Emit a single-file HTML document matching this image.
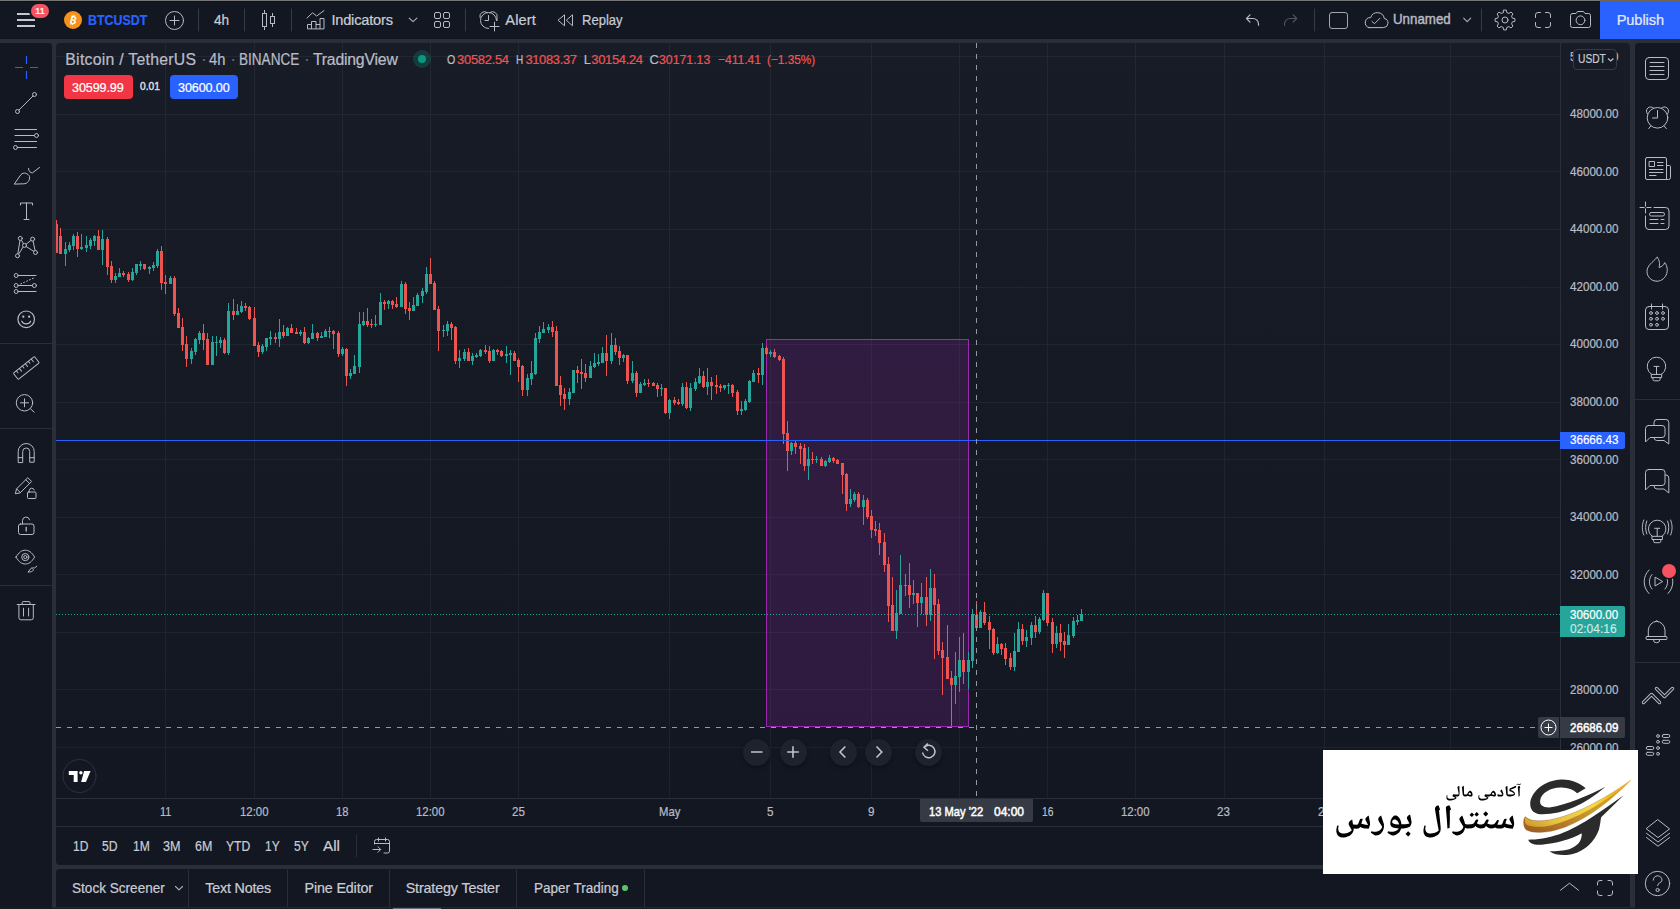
<!DOCTYPE html>
<html lang="en"><head><meta charset="utf-8"><title>BTCUSDT 30600.00 - TradingView</title>
<style>
*{box-sizing:border-box;margin:0;padding:0}
html,body{width:1680px;height:909px;overflow:hidden;background:#2a2e39}
body{position:relative;font-family:"Liberation Sans",sans-serif;color:#d1d4dc;-webkit-font-smoothing:antialiased}
.p{position:absolute;background:#131722}
.t{position:absolute;white-space:pre;line-height:1;display:block;-webkit-text-stroke:.22px}
svg{position:absolute;left:0;top:0;overflow:visible}
.btn{position:absolute;border-radius:4px}
.lbl{position:absolute}
.sep{position:absolute;width:1px;background:#2a2e39}
.hsep{position:absolute;height:1px;background:#2a2e39}
.nav{position:absolute;width:27px;height:27px;border-radius:50%;background:#1e222d;box-shadow:0 2px 4px rgba(0,0,0,.35)}
</style></head><body>

<div id="topline" style="position:absolute;left:0;top:0;width:1680px;height:1px;background:#757575"></div>
<div id="topline2" style="position:absolute;left:0;top:1px;width:1680px;height:1px;background:#0e111a"></div>
<header class="p" id="toolbar" style="left:0;top:2px;width:1680px;height:37px"></header>
<nav class="p" id="lefttools" style="left:0;top:43px;width:52px;height:866px;border-top-right-radius:4px"></nav>
<main class="p" id="chartpanel" style="left:56px;top:43px;width:1574px;height:822px;border-radius:4px;background:linear-gradient(#181c27 0px,#131722 755px,#131722 822px)"></main>
<footer class="p" id="bottomtabs" style="left:56px;top:869px;width:1574px;height:38px;border-radius:4px 4px 0 0"></footer>
<aside class="p" id="righttools" style="left:1635px;top:43px;width:45px;height:866px;border-top-left-radius:4px"></aside>
<div id="publish" style="position:absolute;left:1600px;top:1px;width:80px;height:38px;background:#2962ff"></div><div style="position:absolute;left:1600px;top:0;width:80px;height:1px;background:#6e6651"></div>
<svg id="chart" width="1680" height="909" viewBox="0 0 1680 909" shape-rendering="crispEdges">
<defs><clipPath id="pane"><rect x="56" y="43" width="1504" height="755"/></clipPath></defs>
<g clip-path="url(#pane)">
<path d="M165.5,43V798M254.5,43V798M342.5,43V798M430.5,43V798M518.5,43V798M669.5,43V798M770.5,43V798M871.5,43V798M959.5,43V798M1047.5,43V798M1135.5,43V798M1224.5,43V798M1324.5,43V798M1450.5,43V798M56,56.5H1560M56,114.5H1560M56,171.5H1560M56,229.5H1560M56,287.5H1560M56,344.5H1560M56,402.5H1560M56,459.5H1560M56,517.5H1560M56,574.5H1560M56,632.5H1560M56,689.5H1560M56,747.5H1560" stroke="rgba(240,243,250,0.055)" stroke-width="1" fill="none"/>
<rect x="766.5" y="339.5" width="202" height="387" fill="rgba(156,39,176,0.2)" stroke="#9c27b0" stroke-width="1"/>
<path d="M65,242h1v24h-1zM69,242h1v10h-1zM73,234h1v16h-1zM81,234h1v16h-1zM86,236h1v16h-1zM90,238h1v11h-1zM94,235h1v11h-1zM102,230h1v35h-1zM115,273h1v10h-1zM119,268h1v9h-1zM132,268h1v13h-1zM136,264h1v11h-1zM140,261h1v9h-1zM149,266h1v8h-1zM153,262h1v9h-1zM157,249h1v19h-1zM170,276h1v8h-1zM191,348h1v16h-1zM195,338h1v17h-1zM199,331h1v13h-1zM212,336h1v29h-1zM216,336h1v20h-1zM220,337h1v11h-1zM228,303h1v52h-1zM237,304h1v11h-1zM241,301h1v12h-1zM262,344h1v10h-1zM266,338h1v13h-1zM270,331h1v14h-1zM279,319h1v28h-1zM287,327h1v9h-1zM300,330h1v6h-1zM308,337h1v7h-1zM312,324h1v15h-1zM321,332h1v6h-1zM325,329h1v8h-1zM342,347h1v9h-1zM350,369h1v10h-1zM354,355h1v19h-1zM359,312h1v61h-1zM363,312h1v14h-1zM375,315h1v12h-1zM380,293h1v32h-1zM388,300h1v9h-1zM401,281h1v26h-1zM413,297h1v14h-1zM417,293h1v13h-1zM422,288h1v15h-1zM426,267h1v27h-1zM443,325h1v12h-1zM447,321h1v15h-1zM459,350h1v18h-1zM464,349h1v12h-1zM472,353h1v12h-1zM476,353h1v5h-1zM480,349h1v8h-1zM493,349h1v12h-1zM506,346h1v17h-1zM510,350h1v25h-1zM527,374h1v22h-1zM531,361h1v24h-1zM535,333h1v42h-1zM539,326h1v17h-1zM543,322h1v11h-1zM548,324h1v9h-1zM569,388h1v17h-1zM573,370h1v23h-1zM590,361h1v17h-1zM594,353h1v15h-1zM598,354h1v12h-1zM602,347h1v16h-1zM611,333h1v31h-1zM623,354h1v8h-1zM632,361h1v22h-1zM640,382h1v11h-1zM644,379h1v7h-1zM661,384h1v12h-1zM669,399h1v20h-1zM682,383h1v23h-1zM690,383h1v28h-1zM695,378h1v13h-1zM699,368h1v16h-1zM707,368h1v27h-1zM724,385h1v5h-1zM728,383h1v11h-1zM741,401h1v14h-1zM745,399h1v12h-1zM749,380h1v23h-1zM753,370h1v12h-1zM762,343h1v42h-1zM770,350h1v7h-1zM791,442h1v13h-1zM808,447h1v33h-1zM816,456h1v7h-1zM825,460h1v7h-1zM829,455h1v8h-1zM850,489h1v18h-1zM854,492h1v10h-1zM863,495h1v30h-1zM896,590h1v49h-1zM900,555h1v59h-1zM905,574h1v22h-1zM913,580h1v24h-1zM921,583h1v31h-1zM930,569h1v52h-1zM955,652h1v52h-1zM959,637h1v55h-1zM968,652h1v37h-1zM972,609h1v59h-1zM980,610h1v18h-1zM997,637h1v17h-1zM1014,633h1v38h-1zM1018,622h1v30h-1zM1026,630h1v17h-1zM1031,622h1v23h-1zM1039,617h1v17h-1zM1043,590h1v31h-1zM1056,626h1v22h-1zM1068,624h1v21h-1zM1073,617h1v21h-1zM1077,615h1v10h-1zM1081,609h1v12h-1zM64,249h3v5h-3zM68,245h3v5h-3zM72,236h3v10h-3zM80,247h3v2h-3zM85,245h3v3h-3zM89,240h3v6h-3zM93,236h3v5h-3zM101,239h3v11h-3zM114,276h3v4h-3zM118,273h3v4h-3zM131,272h3v8h-3zM135,264h3v9h-3zM139,264h3v2h-3zM148,267h3v2h-3zM152,265h3v3h-3zM156,251h3v15h-3zM169,278h3v6h-3zM190,351h3v8h-3zM194,339h3v13h-3zM198,333h3v7h-3zM211,342h3v23h-3zM215,342h3v1h-3zM219,340h3v3h-3zM227,311h3v42h-3zM236,311h3v4h-3zM240,306h3v6h-3zM261,346h3v6h-3zM265,338h3v9h-3zM269,337h3v2h-3zM278,332h3v7h-3zM286,328h3v8h-3zM299,332h3v2h-3zM307,338h3v5h-3zM311,333h3v6h-3zM320,336h3v2h-3zM324,331h3v6h-3zM341,349h3v5h-3zM349,373h3v3h-3zM353,366h3v8h-3zM358,324h3v43h-3zM362,321h3v4h-3zM374,324h3v1h-3zM379,302h3v23h-3zM387,301h3v3h-3zM400,284h3v23h-3zM412,305h3v6h-3zM416,295h3v11h-3zM421,291h3v5h-3zM425,274h3v18h-3zM442,330h3v1h-3zM446,324h3v7h-3zM458,358h3v3h-3zM463,352h3v7h-3zM471,356h3v5h-3zM475,355h3v2h-3zM479,350h3v6h-3zM492,350h3v11h-3zM505,354h3v2h-3zM509,353h3v2h-3zM526,378h3v12h-3zM530,373h3v6h-3zM534,338h3v36h-3zM538,332h3v7h-3zM542,329h3v4h-3zM547,327h3v3h-3zM568,392h3v7h-3zM572,370h3v23h-3zM589,366h3v12h-3zM593,363h3v4h-3zM597,362h3v2h-3zM601,353h3v10h-3zM610,345h3v16h-3zM622,355h3v3h-3zM631,373h3v8h-3zM639,384h3v9h-3zM643,383h3v2h-3zM660,388h3v1h-3zM668,400h3v13h-3zM681,387h3v17h-3zM689,388h3v20h-3zM694,382h3v7h-3zM698,376h3v7h-3zM706,382h3v5h-3zM723,385h3v3h-3zM727,385h3v1h-3zM740,409h3v2h-3zM744,401h3v9h-3zM748,381h3v21h-3zM752,373h3v9h-3zM761,348h3v27h-3zM769,352h3v2h-3zM790,443h3v8h-3zM807,459h3v7h-3zM815,459h3v1h-3zM824,461h3v5h-3zM828,458h3v4h-3zM849,499h3v5h-3zM853,494h3v6h-3zM862,500h3v7h-3zM895,613h3v18h-3zM899,585h3v29h-3zM904,585h3v1h-3zM912,593h3v2h-3zM920,597h3v6h-3zM929,588h3v27h-3zM954,676h3v9h-3zM958,660h3v17h-3zM967,660h3v12h-3zM971,614h3v47h-3zM979,612h3v16h-3zM996,644h3v9h-3zM1013,651h3v16h-3zM1017,629h3v23h-3zM1025,637h3v4h-3zM1030,625h3v13h-3zM1038,619h3v13h-3zM1042,593h3v27h-3zM1055,633h3v11h-3zM1067,635h3v10h-3zM1072,621h3v15h-3zM1076,620h3v2h-3zM1080,614h3v7h-3z" fill="#26a69a"/>
<path d="M56,220h1v33h-1zM60,228h1v26h-1zM77,232h1v25h-1zM98,230h1v20h-1zM107,237h1v38h-1zM111,261h1v22h-1zM123,271h1v6h-1zM128,272h1v10h-1zM144,264h1v6h-1zM161,246h1v44h-1zM165,275h1v19h-1zM174,276h1v40h-1zM178,308h1v20h-1zM182,318h1v33h-1zM186,336h1v31h-1zM203,324h1v26h-1zM207,333h1v32h-1zM224,338h1v16h-1zM233,299h1v21h-1zM245,303h1v8h-1zM249,306h1v14h-1zM254,307h1v39h-1zM258,342h1v15h-1zM275,333h1v10h-1zM283,325h1v13h-1zM291,324h1v9h-1zM296,328h1v6h-1zM304,327h1v17h-1zM317,332h1v9h-1zM329,327h1v11h-1zM333,330h1v19h-1zM338,331h1v26h-1zM346,348h1v38h-1zM367,308h1v19h-1zM371,319h1v9h-1zM384,300h1v10h-1zM392,300h1v9h-1zM396,297h1v11h-1zM405,282h1v32h-1zM409,302h1v18h-1zM430,258h1v26h-1zM434,281h1v29h-1zM438,306h1v45h-1zM451,322h1v18h-1zM455,326h1v38h-1zM468,348h1v13h-1zM485,345h1v9h-1zM489,346h1v17h-1zM497,349h1v6h-1zM501,350h1v7h-1zM514,351h1v10h-1zM518,358h1v24h-1zM522,365h1v31h-1zM552,321h1v16h-1zM556,326h1v60h-1zM560,376h1v30h-1zM564,388h1v22h-1zM577,366h1v17h-1zM581,359h1v30h-1zM585,364h1v18h-1zM606,335h1v41h-1zM615,338h1v17h-1zM619,346h1v19h-1zM627,355h1v29h-1zM636,371h1v26h-1zM648,379h1v8h-1zM653,382h1v4h-1zM657,383h1v14h-1zM665,388h1v26h-1zM674,397h1v8h-1zM678,399h1v6h-1zM686,382h1v27h-1zM703,371h1v17h-1zM711,377h1v23h-1zM716,375h1v19h-1zM720,384h1v8h-1zM732,384h1v13h-1zM737,390h1v25h-1zM758,368h1v15h-1zM766,346h1v9h-1zM774,349h1v9h-1zM779,355h1v6h-1zM783,357h1v87h-1zM787,421h1v50h-1zM795,440h1v14h-1zM800,443h1v21h-1zM804,444h1v27h-1zM812,452h1v12h-1zM821,457h1v9h-1zM833,457h1v6h-1zM837,459h1v5h-1zM842,463h1v31h-1zM846,473h1v38h-1zM858,492h1v16h-1zM867,498h1v21h-1zM871,510h1v28h-1zM875,521h1v15h-1zM879,523h1v32h-1zM884,533h1v39h-1zM888,557h1v65h-1zM892,577h1v54h-1zM909,563h1v45h-1zM917,593h1v34h-1zM926,577h1v49h-1zM934,574h1v85h-1zM938,599h1v56h-1zM942,642h1v53h-1zM947,625h1v54h-1zM951,671h1v55h-1zM963,633h1v51h-1zM976,601h1v27h-1zM984,602h1v23h-1zM989,616h1v33h-1zM993,628h1v27h-1zM1001,643h1v12h-1zM1005,643h1v22h-1zM1010,653h1v17h-1zM1022,624h1v21h-1zM1035,616h1v22h-1zM1047,593h1v33h-1zM1052,618h1v35h-1zM1060,624h1v27h-1zM1064,632h1v26h-1zM55,224h3v29h-3zM59,236h3v18h-3zM76,236h3v13h-3zM97,236h3v14h-3zM106,239h3v28h-3zM110,266h3v14h-3zM122,273h3v2h-3zM127,274h3v6h-3zM143,264h3v5h-3zM160,251h3v32h-3zM164,282h3v2h-3zM173,278h3v36h-3zM177,313h3v15h-3zM181,327h3v18h-3zM185,344h3v15h-3zM202,333h3v7h-3zM206,339h3v26h-3zM223,340h3v13h-3zM232,311h3v4h-3zM244,306h3v2h-3zM248,307h3v12h-3zM253,318h3v28h-3zM257,345h3v7h-3zM274,337h3v2h-3zM282,332h3v4h-3zM290,328h3v5h-3zM295,332h3v2h-3zM303,332h3v11h-3zM316,333h3v5h-3zM328,331h3v1h-3zM332,331h3v3h-3zM337,333h3v21h-3zM345,349h3v27h-3zM366,321h3v4h-3zM370,324h3v1h-3zM383,302h3v2h-3zM391,301h3v4h-3zM395,304h3v3h-3zM404,284h3v25h-3zM408,308h3v3h-3zM429,274h3v10h-3zM433,283h3v27h-3zM437,309h3v22h-3zM450,324h3v4h-3zM454,327h3v34h-3zM467,352h3v9h-3zM484,350h3v2h-3zM488,351h3v10h-3zM496,350h3v2h-3zM500,351h3v5h-3zM513,353h3v8h-3zM517,360h3v7h-3zM521,366h3v24h-3zM551,327h3v5h-3zM555,331h3v55h-3zM559,385h3v10h-3zM563,394h3v5h-3zM576,370h3v3h-3zM580,372h3v2h-3zM584,373h3v5h-3zM605,353h3v8h-3zM614,345h3v7h-3zM618,351h3v7h-3zM626,355h3v26h-3zM635,373h3v20h-3zM647,383h3v1h-3zM652,383h3v3h-3zM656,385h3v4h-3zM664,388h3v25h-3zM673,400h3v3h-3zM677,402h3v2h-3zM685,387h3v21h-3zM702,376h3v11h-3zM710,382h3v4h-3zM715,385h3v2h-3zM719,386h3v2h-3zM731,385h3v8h-3zM736,392h3v19h-3zM757,373h3v2h-3zM765,348h3v6h-3zM773,352h3v5h-3zM778,356h3v4h-3zM782,359h3v75h-3zM786,433h3v18h-3zM794,443h3v4h-3zM799,446h3v3h-3zM803,448h3v18h-3zM811,459h3v1h-3zM820,459h3v7h-3zM832,458h3v3h-3zM836,460h3v4h-3zM841,463h3v12h-3zM845,474h3v30h-3zM857,494h3v13h-3zM866,500h3v17h-3zM870,516h3v14h-3zM874,529h3v2h-3zM878,530h3v13h-3zM883,542h3v23h-3zM887,564h3v42h-3zM891,605h3v26h-3zM908,585h3v10h-3zM916,593h3v10h-3zM925,597h3v18h-3zM933,588h3v17h-3zM937,604h3v47h-3zM941,650h3v8h-3zM946,657h3v22h-3zM950,678h3v7h-3zM962,660h3v12h-3zM975,615h3v13h-3zM983,612h3v11h-3zM988,622h3v8h-3zM992,629h3v24h-3zM1000,644h3v5h-3zM1004,648h3v11h-3zM1009,658h3v9h-3zM1021,629h3v12h-3zM1034,625h3v7h-3zM1046,593h3v30h-3zM1051,622h3v22h-3zM1059,633h3v9h-3zM1063,641h3v4h-3z" fill="#ef5350"/>
<rect x="56" y="440" width="1504" height="1" fill="#2962ff"/>
<path d="M56,614.5H1560" stroke="#26a69a" stroke-width="1" stroke-dasharray="1 2" fill="none"/>
<path d="M976.5,43V798" stroke="#9598a1" stroke-width="1" stroke-dasharray="5 6" fill="none"/>
<path d="M56,727.5H1560" stroke="#9598a1" stroke-width="1" stroke-dasharray="5 6" fill="none"/>
</g>
<path d="M1560.5,43V798M56,798.5H1630M56,826.5H1630" stroke="#2a2e39" stroke-width="1" fill="none"/>
</svg>
<div class="btn" id="sell" style="left:64px;top:75px;width:69px;height:24px;background:#f23645"></div>
<div class="btn" id="buy" style="left:170px;top:75px;width:68px;height:24px;background:#2962ff"></div>
<div id="status" style="position:absolute;left:413px;top:50px;width:18px;height:18px;border-radius:50%;background:rgba(8,153,129,.25)"></div><div style="position:absolute;left:418px;top:55px;width:8px;height:8px;border-radius:50%;background:#089981"></div>
<div id="cur" style="position:absolute;left:1573px;top:49px;width:44px;height:21px;border:1px solid #363a45;border-radius:4px;background:#171b26;z-index:2"></div>
<div class="lbl" id="lbl-line" style="left:1560px;top:432px;width:65px;height:17px;background:#2962ff;border-radius:0 2px 2px 0"></div>
<div class="lbl" id="lbl-last" style="left:1560px;top:606px;width:65px;height:31px;background:#26a69a;border-radius:0 2px 2px 0"></div>
<div class="lbl" id="lbl-cross" style="left:1560px;top:717px;width:65px;height:21px;background:#363a45;border-radius:0 2px 2px 0"></div>
<div class="lbl" id="lbl-plus" style="left:1538px;top:717px;width:21px;height:21px;background:#363a45;border-radius:2px 0 0 2px"></div>
<div class="lbl" id="lbl-time" style="left:920px;top:799px;width:113px;height:23px;background:#363a45;border-radius:0 0 2px 2px"></div>
<div class="nav" style="left:743.2px;top:738.5px"></div>
<div class="nav" style="left:779.5px;top:738.5px"></div>
<div class="nav" style="left:829.5px;top:738.5px"></div>
<div class="nav" style="left:865.3px;top:738.5px"></div>
<div class="nav" style="left:915.3px;top:738.5px"></div>
<div class="sep" style="left:188px;top:870px;height:37px"></div>
<div class="sep" style="left:287px;top:870px;height:37px"></div>
<div class="sep" style="left:389px;top:870px;height:37px"></div>
<div class="sep" style="left:516px;top:870px;height:37px"></div>
<div class="sep" style="left:644px;top:870px;height:37px"></div>
<div style="position:absolute;left:622px;top:885px;width:6px;height:6px;border-radius:50%;background:#5dc46a"></div>
<div style="position:absolute;left:0;top:907px;width:1680px;height:1px;background:#17191f"></div><div style="position:absolute;left:52px;top:907px;width:1583px;height:1px;background:#24272f"></div><div style="position:absolute;left:0;top:908px;width:1680px;height:1px;background:#1a1a1b"></div><div style="position:absolute;left:393px;top:908px;width:48px;height:1px;background:#686b76"></div>
<svg id="icons" width="1680" height="909" viewBox="0 0 1680 909" fill="none" stroke="#b8bbc4" stroke-width="1" stroke-linecap="round" stroke-linejoin="round">
<g id="ic-menu" stroke="none" fill="#c5c8d0"><rect x="17" y="13" width="18" height="2"/><rect x="17" y="19" width="18" height="2"/><rect x="17" y="25" width="18" height="2"/></g>
<rect x="29" y="2" width="22" height="18" rx="9" fill="#131722" stroke="none"/><rect x="31" y="4" width="18" height="14" rx="7" fill="#f7525f" stroke="none"/>
<circle cx="73" cy="20" r="9" fill="#f7931a" stroke="none"/>
<g id="ic-btc" transform="translate(73,20) rotate(14) scale(.8)" fill="#fff" stroke="none"><path d="M-3,-5h3.6c2,0 3,.9 3,2.4c0,1.1-.6,1.8-1.500,2.100c1.200,.3 2,1.100 2,2.500c0,1.900-1.300,3-3.500,3h-3.600zM-1,-3.400v2.700h1.300c.9,0 1.400-.5 1.400-1.400c0-.8-.5-1.300-1.400-1.300zM-1,.8v2.800h1.500c1,0 1.600-.5 1.600-1.400c0-.9-.6-1.400-1.600-1.400z" fill-rule="evenodd"/><rect x="-1.600" y="-6.500" width="1" height="2"/><rect x=".4" y="-6.500" width="1" height="2"/><rect x="-1.600" y="4.500" width="1" height="2"/><rect x=".4" y="4.500" width="1" height="2"/></g>
<circle cx="174.500" cy="20.500" r="9"/><path d="M170,20.500h9M174.500,16v9"/>
<path d="M198.5,9V31" stroke="#363a45"/>
<path d="M244.5,9V31" stroke="#363a45"/>
<path d="M291.5,9V31" stroke="#363a45"/>
<path d="M465.5,9V31" stroke="#363a45"/>
<path d="M1314.5,9V31" stroke="#363a45"/>
<path d="M1481.5,9V31" stroke="#363a45"/>
<g id="ic-candles" shape-rendering="crispEdges"><rect x="262.500" y="13.500" width="4" height="13"/><path d="M264.500,10v3M264.500,27v3"/><rect x="270.500" y="16.500" width="4" height="7"/><path d="M272.500,13v3M272.500,24v3"/></g>
<g id="ic-ind"><path d="M307,18L312.500,12.800L316.700,16L324,10.600"/><path d="M307.500,28.500V24.500H311.500V21.500H316V24.500H320V18.500H324V28.500ZM311.500,24.500V28.500M316,24.500V28.500M320,24.500V28.500"/></g>
<path d="M409.200,18.200L413,21.700L416.900,18.200" stroke-width="1.100" stroke="#aeb1ba"/>
<g id="ic-grid"><rect x="434.500" y="12.500" width="6" height="6" rx="1.500"/><rect x="443.500" y="12.500" width="6" height="6" rx="1.500"/><rect x="434.500" y="21.500" width="6" height="6" rx="1.500"/><rect x="443.500" y="21.500" width="6" height="6" rx="1.500"/></g>
<g id="ic-alert"><path d="M496.500,20.500A8,8 0 1 0 488.500,28.500"/><path d="M480,17.500A4.600,4.600 0 0 1 487.200,12.600M489.800,12.600A4.600,4.600 0 0 1 497,17.500V20.500"/><path d="M488.500,15.500V20.500H485"/><path d="M490,26.500H499M494.500,22.200V31"/></g>
<path d="M564.500,15.200V25.800L558.300,20.500ZM572.500,15.200V25.800L566.600,20.500Z"/>
<path d="M1250,14.800L1246.500,18.500L1250,22.200M1246.500,18.500H1253A5.500,5.500 0 0 1 1258.500,24V25.200" stroke-width="1.200"/>
<path d="M1293.200,14.800L1296.700,18.500L1293.200,22.200M1296.700,18.500H1290A5.500,5.500 0 0 0 1284.500,24V25.200" stroke="#50535e" stroke-width="1.200"/>
<rect x="1329.500" y="12.500" width="18" height="16" rx="2.500" stroke="#a3a6af"/>
<path d="M1369,27.600H1383.500A4.600,4.600 0 0 0 1384.300,18.500A7,7 0 0 0 1370.700,17.600A5.100,5.100 0 0 0 1369,27.600Z"/><path d="M1372,21.500L1374.500,23.700L1380,18.200"/>
<path d="M1463.700,18.200L1467.200,21.700L1470.700,18.200" stroke-width="1.100" stroke="#aeb1ba"/>
<path d="M1503.7,10.1L1506.3,10.1L1506.9,12.7L1508.8,13.4L1511.1,12.1L1512.9,13.9L1511.6,16.2L1512.3,18.1L1514.9,18.7L1514.9,21.3L1512.3,21.9L1511.6,23.8L1512.9,26.1L1511.1,27.9L1508.8,26.6L1506.9,27.3L1506.3,29.9L1503.7,29.9L1503.1,27.3L1501.2,26.6L1498.9,27.9L1497.1,26.1L1498.4,23.8L1497.7,21.9L1495.1,21.3L1495.1,18.7L1497.7,18.1L1498.4,16.2L1497.1,13.9L1498.9,12.1L1501.2,13.4L1503.1,12.7Z"/><circle cx="1505" cy="20" r="3"/>
<path d="M1535.5,17.5V15.0a2.5,2.5 0 0 1 2.5,-2.5H1540.5M1545.5,12.5H1548.0a2.5,2.5 0 0 1 2.5,2.5V17.5M1550.5,22.5V25.0a2.5,2.5 0 0 1 -2.5,2.5H1545.5M1540.5,27.5H1538.0a2.5,2.5 0 0 1 -2.5,-2.5V22.5"/>
<path d="M1572.500,13.500H1576L1577.500,11.500H1583.500L1585,13.500H1588.500A2,2 0 0 1 1590.500,15.500V25.500A2,2 0 0 1 1588.500,27.500H1572.500A2,2 0 0 1 1570.500,25.500V15.500A2,2 0 0 1 1572.500,13.500Z"/><circle cx="1580.500" cy="20.300" r="4.400"/>
<path d="M15,67.500H23M30,67.500H38M26.500,56V64M26.500,71V79" stroke="#2962ff" stroke-width="1.200" stroke-linecap="butt"/>
<circle cx="17.500" cy="111.500" r="2"/><circle cx="34.500" cy="94.500" r="2"/><path d="M19,110L33,96"/>
<path d="M15,129.500H36.500M15,135.500H34.500M15,141.500H36.500M17.500,147.500H36.500"/><circle cx="36.500" cy="135.500" r="2" fill="#131722"/><circle cx="15.500" cy="147.500" r="2" fill="#131722"/>
<path d="M14.500,183.800L21,174.500C23.500,172 28,173 29.500,176.500C30,180.500 27.500,183.800 24,183.800Z"/><path d="M28.500,168.500C28.800,171.500 30.500,173 32.500,172.800L39.500,167.500"/>
<path d="M20.500,205V203H32.500V205M26.500,203V219.500M24,219.500H29"/>
<path d="M17.500,255.800L20.300,238.400L24.500,245.400L32.600,239.100L35.500,252.500L24.500,245.400Z"/>
<circle cx="20.3" cy="238.4" r="2" fill="#131722"/>
<circle cx="32.6" cy="239.1" r="2" fill="#131722"/>
<circle cx="24.5" cy="245.4" r="2" fill="#131722"/>
<circle cx="17.5" cy="255.8" r="2" fill="#131722"/>
<circle cx="35.5" cy="252.5" r="2" fill="#131722"/>
<path d="M18.200,275.500H36M18.200,285.500H32.400M18.200,291.500H36"/><path d="M20.700,283.900L34,277.900" stroke-dasharray="1 2.200"/>
<circle cx="16.2" cy="275.5" r="2" fill="#131722"/>
<circle cx="16.2" cy="285.5" r="2" fill="#131722"/>
<circle cx="34.4" cy="285.5" r="2" fill="#131722"/>
<circle cx="16.2" cy="291.5" r="2" fill="#131722"/>
<circle cx="26.200" cy="319.300" r="8.300" stroke-width="1.200"/><circle cx="23.300" cy="316.700" r="1.100" fill="#c1c4cd" stroke="none"/><circle cx="29.100" cy="316.700" r="1.100" fill="#c1c4cd" stroke="none"/><path d="M21.800,321.200C23.300,324.700 29.100,324.700 30.600,321.200" stroke-width="1.200"/>
<path d="M0,343.500H52M0,428.500H52M0,585.500H52" stroke="#2a2e39" stroke-linecap="butt"/>
<g transform="translate(26.300,368) rotate(-38.500)"><rect x="-13.500" y="-4" width="27" height="8" rx="1"/><path d="M-9.500,-4v2.500M-5.700,-4v3.500M-1.900,-4v2.500M1.900,-4v3.500M5.700,-4v2.500M9.500,-4v3.500"/></g>
<circle cx="24.500" cy="402.800" r="8.200"/><path d="M20.500,402.800H28.500M24.500,398.800V406.800M30.500,408.800L34.200,412.200"/>
<path d="M18.200,462.200V451.500A8,8 0 0 1 34.200,451.500V462.200H29.700V451.500A3.500,3.500 0 0 0 22.700,451.500V462.200ZM18.200,457.700H22.700M29.700,457.700H34.200"/>
<path d="M15.400,493.400L16.600,488.800L27.800,477.700L31.600,481.500L20.400,492.600ZM16.600,488.800L20.400,492.600M25.800,479.700L29.600,483.500"/><rect x="27.500" y="492" width="8.500" height="6.500" rx="1"/><path d="M29.300,492V490.500A2.500,2.500 0 0 1 34.200,490"/>
<rect x="18.500" y="524" width="15.500" height="10.500" rx="2"/><path d="M22.500,524V520.500A3.600,3.600 0 0 1 29.600,519.800"/><path d="M26.200,527.500V531" stroke-width="1.300"/>
<path d="M16,557.100C19,552 22,550.200 25.300,550.200C28.600,550.200 31.600,552 34.600,557.100C31.600,562.200 28.600,564 25.300,564C22,564 19,562.200 16,557.100Z"/><circle cx="25.300" cy="557.100" r="3.600"/><circle cx="25.300" cy="557.100" r="1.600"/><path d="M28.300,571.800L31,568.300C32,567.600 33.200,568.300 33.300,569.500C33.200,571 32,571.800 31,571.800ZM33,567.500C33.500,568.200 34.200,568.200 34.800,567.800L36.800,566.200"/>
<path d="M17.200,604.500H35M22.200,604.500V602.600A1,1 0 0 1 23.200,601.600H29A1,1 0 0 1 30,602.600V604.500M18.900,604.500V617.800A2,2 0 0 0 20.900,619.800H31.300A2,2 0 0 0 33.300,617.800V604.500M23.500,608.200V616M28.600,608.200V616"/>
<rect x="1645.500" y="57.500" width="23" height="22" rx="3.500"/><path d="M1650,62.500H1664M1650,66.500H1664M1650,70.500H1664M1650,74.500H1664"/>
<circle cx="1657.500" cy="117.800" r="10.300"/><path d="M1647.500,114A4.100,4.100 0 1 1 1653.800,108.300M1661.200,108.300A4.100,4.100 0 1 1 1667.500,114M1657.500,110.500V118H1652.500M1650.800,126L1648.700,128.600M1664.200,126L1666.300,128.600"/>
<path d="M1647,157.500H1665A1.500,1.500 0 0 1 1666.500,159V179.500H1647A1.500,1.500 0 0 1 1645.500,178V159A1.500,1.500 0 0 1 1647,157.500ZM1666.500,165.500H1669.500A1,1 0 0 1 1670.500,166.500V177.500A2,2 0 0 1 1668.500,179.500H1666.500"/><rect x="1649.500" y="161.500" width="5" height="5"/><path d="M1657.500,162.500H1663M1657.500,165.500H1663M1649.500,169.500H1663M1649.500,172.500H1663M1649.500,175.500H1656"/>
<path d="M1640,207.500H1644.200M1646.800,207.500H1651M1645.500,202V206.200M1645.500,208.800V213M1654,207.500H1665.500A3.500,3.500 0 0 1 1669,211V226A3.500,3.500 0 0 1 1665.500,229.500H1649A3.500,3.500 0 0 1 1645.500,226V216"/><rect x="1649.500" y="212.500" width="15" height="3.500" rx="1.700"/><path d="M1650,219.500H1658M1661,219.500H1664M1650,223.500H1658M1661,223.500H1664"/>
<path d="M1657.200,257.300C1660,260.500 1659.800,264.500 1659,267.500C1662,266.800 1664,264.800 1664.700,262.600C1667.500,266 1668,271 1666.200,275C1664,279.500 1660,281.200 1657,281.200C1651,281.200 1647,276.500 1647,271.500C1647,265.500 1652.500,262.500 1657.200,257.300Z"/>
<rect x="1645.500" y="306.500" width="23" height="23" rx="3.500"/><path d="M1651.500,304V309M1662.500,304V309"/>
<circle cx="1651" cy="313" r="1.400"/>
<circle cx="1657" cy="313" r="1.400"/>
<circle cx="1663" cy="313" r="1.400"/>
<circle cx="1651" cy="318.8" r="1.400"/>
<circle cx="1657" cy="318.8" r="1.400"/>
<circle cx="1663" cy="318.8" r="1.400"/>
<circle cx="1651" cy="324.8" r="1.400"/>
<circle cx="1657" cy="324.8" r="1.400"/>
<path d="M1651.3,374.20000000000005A9.3,9.3 0 1 1 1661.7,374.20000000000005ZM1651.3,374.20000000000005V377.6H1661.7V374.20000000000005M1652.9,377.6V379.40000000000003A1.500,1.500 0 0 0 1654.4,380.8H1658.6A1.500,1.500 0 0 0 1660.1,379.40000000000003V377.6M1654.0,366.40000000000003H1659.0M1656.5,366.40000000000003V374.20000000000005"/>
<path d="M1635,399.500H1680M1635,662.500H1680" stroke="#2a2e39" stroke-linecap="butt"/>
<path d="M1654,425.5V422.5A3,3 0 0 1 1657,419.5H1665.800A3,3 0 0 1 1668.800,422.5V444.0L1664,440.5H1656.500A3,3 0 0 1 1654,437.5"/><path d="M1648.200,425.5H1662A3,3 0 0 1 1665,428.5V434.5A3,3 0 0 1 1662,437.5H1650L1645.500,442.0V428.5A3,3 0 0 1 1648.200,425.5Z" fill="#131722"/>
<path d="M1665,475H1666A3,3 0 0 1 1668.800,478V493L1664,489H1657A3,3 0 0 1 1654,486"/><path d="M1648.500,469.500H1662A3,3 0 0 1 1665,472.500V482.500A3,3 0 0 1 1662,485.500H1650L1645.500,490V472.500A3,3 0 0 1 1648.500,469.500Z" fill="#131722"/>
<path d="M1652.0,536.1A8.8,8.8 0 1 1 1662.4,536.1ZM1652.0,536.1V539.5H1662.4V536.1M1653.6000000000001,539.5V541.3A1.500,1.500 0 0 0 1655.1000000000001,542.7H1659.3A1.500,1.500 0 0 0 1660.8,541.3V539.5M1654.7,528.3H1659.7M1657.2,528.3V536.1"/>
<path d="M1646.800,521C1645.200,525 1645.200,530 1646.800,534M1643.800,520C1641.800,525 1641.800,530 1643.800,535M1667.600,521C1669.200,525 1669.200,530 1667.600,534M1670.600,520C1672.600,525 1672.600,530 1670.600,535"/>
<path d="M1655,577.500V586L1662.300,581.700Z"/><path d="M1652,574.500C1648.500,578.500 1648.500,585 1652,589M1665,574.500C1668.500,578.500 1668.500,585 1665,589M1649,570C1642.500,576.500 1642.500,587 1649,593.500M1668,570C1674.500,576.500 1674.500,587 1668,593.500"/>
<circle cx="1669" cy="571" r="8.500" fill="#131722" stroke="none"/><circle cx="1669" cy="571" r="7" fill="#f7525f" stroke="none"/>
<path d="M1648.300,636.500V630A8.400,9.600 0 0 1 1665,630V636.500M1647,636.500H1666A1,1 0 0 1 1667,637.500V638.500A1,1 0 0 1 1666,639.500H1647A1,1 0 0 1 1646,638.500V637.500A1,1 0 0 1 1647,636.500ZM1653.300,639.500A3.300,3.300 0 0 0 1659.900,639.500M1655.500,621.500A1.200,1.200 0 0 1 1657.800,621.500"/>
<path d="M1643.500,702.500L1651.500,694.500L1659.500,702.500" stroke-width="3.400"/><path d="M1643.500,702.500L1651.500,694.500L1659.500,702.500" stroke="#131722" stroke-width="1.500"/>
<path d="M1656.500,688.500L1664.500,696.500L1672.500,688.500" stroke-width="3.400"/><path d="M1656.500,688.500L1664.500,696.500L1672.500,688.500" stroke="#131722" stroke-width="1.500"/>
<circle cx="1658" cy="736" r="1.400"/><rect x="1662.200" y="734.5" width="7.600" height="3" rx="1.500"/>
<circle cx="1658" cy="741.8" r="1.400"/><rect x="1662.200" y="740.3" width="7.600" height="3" rx="1.500"/>
<circle cx="1658" cy="748" r="1.400"/><rect x="1646.200" y="746.5" width="7.600" height="3" rx="1.500"/>
<circle cx="1658" cy="753.8" r="1.400"/><rect x="1646.200" y="752.3" width="7.600" height="3" rx="1.500"/>
<path d="M1658,819.800L1669.600,828.900L1658,837.600L1646.500,828.900ZM1646.500,833.300L1658,842L1669.600,833.300M1646.500,837.500L1658,846.200L1669.600,837.500"/>
<circle cx="1657.500" cy="883.500" r="12.200"/><path d="M1653.200,880.200A4.400,4.400 0 0 1 1662,880.200C1662,883 1657.600,882.300 1657.600,885.500"/><circle cx="1657.600" cy="890" r="1.600"/>
<path d="M175.500,886.500L179,889.800L182.500,886.500" stroke-width="1.100" stroke="#aeb1ba"/>
<path d="M1560.500,890.200L1569.500,883.200L1578.500,890.200"/>
<path d="M1597.5,885.0V883.0a2.5,2.5 0 0 1 2.5,-2.5H1602.0M1608.0,880.5H1610.0a2.5,2.5 0 0 1 2.5,2.5V885.0M1612.5,891.0V893.0a2.5,2.5 0 0 1 -2.5,2.5H1608.0M1602.0,895.5H1600.0a2.5,2.5 0 0 1 -2.5,-2.5V891.0"/>
<path d="M374.500,844V841.500A2,2 0 0 1 376.500,839.500H387.500A2,2 0 0 1 389.500,841.500V851A2,2 0 0 1 387.500,853H384M374.500,843.500H389.500M378.500,838V841M385.500,838V841M373,849.500H380.500M378,846.800L380.700,849.500L378,852.200"/>
<path d="M356.500,835V857" stroke="#2a2e39"/>
<circle cx="79.500" cy="776" r="16.500" stroke="#2e323d" fill="#131722"/><path d="M68.800,771H77.600V782H73.700V775H68.800ZM84.100,771H90.600L85.900,782H81.100Z" fill="#fff" stroke="none"/><circle cx="80.900" cy="772.800" r="1.700" fill="#fff" stroke="none"/>
</svg>
<svg width="10" height="6" viewBox="0 0 10 6" style="left:1606px;top:57px;z-index:3" fill="none" stroke="#c1c4cd" stroke-width="1.2"><path d="M2,1.5L4.700,4L7.400,1.500"/></svg>
<svg id="navicons" width="1680" height="909" viewBox="0 0 1680 909" fill="none" stroke="#c1c4cd" stroke-width="1.600" stroke-linecap="butt" stroke-linejoin="miter"><path d="M751,752H762.500M787.200,752H798.800M793,746.200V757.800M845.300,746.500L840,752L845.300,757.500M876.500,746.500L881.800,752L876.500,757.500"/><path d="M924.300,747.200A6.200,6.200 0 1 1 922.600,752.500M927.800,743.500L924,747.300L928,750.800" stroke-width="1.500"/><circle cx="1548.500" cy="727.500" r="7.500" stroke="#fff" stroke-width="1"/><path d="M1544.500,727.500H1552.500M1548.500,723.500V731.500" stroke="#fff" stroke-width="1"/></svg>
<span class="t " style="left:34.90px;top:5.60px;font-size:9.8px;color:#fff;">11</span>
<span class="t " style="left:88.00px;top:12.75px;font-size:14.5px;color:#2962ff;transform:scaleX(0.8549);transform-origin:0 0;font-weight:700;">BTCUSDT</span>
<span class="t " style="left:214.00px;top:12.70px;font-size:14.6px;color:#c9ccd4;transform:scaleX(0.9351);transform-origin:0 0;">4h</span>
<span class="t " style="left:331.40px;top:12.70px;font-size:14.6px;color:#c9ccd4;letter-spacing:-0.187px;">Indicators</span>
<span class="t " style="left:505.30px;top:12.70px;font-size:14.6px;color:#c9ccd4;letter-spacing:0.111px;">Alert</span>
<span class="t " style="left:581.50px;top:12.70px;font-size:14.6px;color:#c9ccd4;transform:scaleX(0.8933);transform-origin:0 0;">Replay</span>
<span class="t " style="left:1393.00px;top:12.40px;font-size:14.6px;color:#b8bbc4;transform:scaleX(0.9132);transform-origin:0 0;-webkit-text-stroke:.45px;">Unnamed</span>
<span class="t " style="left:1616.70px;top:13.00px;font-size:14.6px;color:#e6e9f0;letter-spacing:-0.088px;">Publish</span>
<span class="t " style="left:65.30px;top:51.50px;font-size:15.8px;color:#b9bcc5;letter-spacing:0.268px;">Bitcoin / TetherUS</span>
<span class="t " style="left:208.90px;top:51.50px;font-size:15.8px;color:#b9bcc5;transform:scaleX(0.9342);transform-origin:0 0;">4h</span>
<span class="t " style="left:238.60px;top:51.50px;font-size:15.8px;color:#b9bcc5;transform:scaleX(0.8587);transform-origin:0 0;">BINANCE</span>
<span class="t " style="left:312.90px;top:51.50px;font-size:15.8px;color:#b9bcc5;letter-spacing:-0.203px;">TradingView</span>
<span class="t " style="left:201.20px;top:51.50px;font-size:15.8px;color:#6a6d78;">·</span>
<span class="t " style="left:230.50px;top:51.50px;font-size:15.8px;color:#6a6d78;">·</span>
<span class="t " style="left:304.20px;top:51.50px;font-size:15.8px;color:#6a6d78;">·</span>
<span class="t " style="left:446.90px;top:54.05px;font-size:12.9px;color:#b9bcc5;transform:scaleX(0.8264);transform-origin:0 0;">O</span>
<span class="t " style="left:457.10px;top:54.05px;font-size:12.9px;color:#ef5350;letter-spacing:-0.262px;">30582.54</span>
<span class="t " style="left:515.90px;top:54.05px;font-size:12.9px;color:#b9bcc5;transform:scaleX(0.7744);transform-origin:0 0;">H</span>
<span class="t " style="left:525.40px;top:54.05px;font-size:12.9px;color:#ef5350;letter-spacing:-0.319px;">31083.37</span>
<span class="t " style="left:583.80px;top:54.05px;font-size:12.9px;color:#b9bcc5;">L</span>
<span class="t " style="left:591.30px;top:54.05px;font-size:12.9px;color:#ef5350;letter-spacing:-0.290px;">30154.24</span>
<span class="t " style="left:649.60px;top:54.05px;font-size:12.9px;color:#b9bcc5;">C</span>
<span class="t " style="left:658.70px;top:54.05px;font-size:12.9px;color:#ef5350;transform:scaleX(0.9530);transform-origin:0 0;">30171.13</span>
<span class="t " style="left:717.90px;top:54.05px;font-size:12.9px;color:#ef5350;transform:scaleX(0.9341);transform-origin:0 0;">−411.41</span>
<span class="t " style="left:767.30px;top:54.05px;font-size:12.9px;color:#ef5350;transform:scaleX(0.9146);transform-origin:0 0;">(−1.35%)</span>
<span class="t " style="left:72.10px;top:81.60px;font-size:12.6px;color:#fff;letter-spacing:-0.124px;">30599.99</span>
<span class="t " style="left:140.40px;top:81.30px;font-size:11.2px;color:#d8dbe3;transform:scaleX(0.9131);transform-origin:0 0;-webkit-text-stroke:.5px;">0.01</span>
<span class="t " style="left:178.10px;top:81.60px;font-size:12.6px;color:#fff;letter-spacing:-0.124px;">30600.00</span>
<span class="t " style="left:1569.90px;top:741.60px;font-size:12.7px;color:#b9bcc5;transform:scaleX(0.9163);transform-origin:0 0;">26000.00</span>
<span class="t " style="left:1569.90px;top:683.60px;font-size:12.7px;color:#b9bcc5;transform:scaleX(0.9163);transform-origin:0 0;">28000.00</span>
<span class="t " style="left:1569.90px;top:568.60px;font-size:12.7px;color:#b9bcc5;transform:scaleX(0.9163);transform-origin:0 0;">32000.00</span>
<span class="t " style="left:1569.90px;top:510.60px;font-size:12.7px;color:#b9bcc5;transform:scaleX(0.9163);transform-origin:0 0;">34000.00</span>
<span class="t " style="left:1569.90px;top:453.60px;font-size:12.7px;color:#b9bcc5;transform:scaleX(0.9163);transform-origin:0 0;">36000.00</span>
<span class="t " style="left:1569.90px;top:395.60px;font-size:12.7px;color:#b9bcc5;transform:scaleX(0.9163);transform-origin:0 0;">38000.00</span>
<span class="t " style="left:1569.90px;top:337.60px;font-size:12.7px;color:#b9bcc5;transform:scaleX(0.9163);transform-origin:0 0;">40000.00</span>
<span class="t " style="left:1569.90px;top:280.60px;font-size:12.7px;color:#b9bcc5;transform:scaleX(0.9163);transform-origin:0 0;">42000.00</span>
<span class="t " style="left:1569.90px;top:222.60px;font-size:12.7px;color:#b9bcc5;transform:scaleX(0.9163);transform-origin:0 0;">44000.00</span>
<span class="t " style="left:1569.90px;top:165.60px;font-size:12.7px;color:#b9bcc5;transform:scaleX(0.9163);transform-origin:0 0;">46000.00</span>
<span class="t " style="left:1569.90px;top:107.60px;font-size:12.7px;color:#b9bcc5;transform:scaleX(0.9163);transform-origin:0 0;">48000.00</span>
<span class="t " style="left:1569.90px;top:50.60px;font-size:12.7px;color:#b9bcc5;transform:scaleX(0.9163);transform-origin:0 0;">50000.00</span>
<span class="t " style="left:1569.90px;top:434.45px;font-size:12.7px;color:#fff;transform:scaleX(0.9144);transform-origin:0 0;">36666.43</span>
<span class="t " style="left:1570.30px;top:608.55px;font-size:12.7px;color:#fff;transform:scaleX(0.9087);transform-origin:0 0;">30600.00</span>
<span class="t " style="left:1570.30px;top:622.65px;font-size:12.7px;color:rgba(255,255,255,.72);transform:scaleX(0.9424);transform-origin:0 0;">02:04:16</span>
<span class="t " style="left:1570.00px;top:721.65px;font-size:12.7px;color:#fff;transform:scaleX(0.9144);transform-origin:0 0;-webkit-text-stroke:.5px;">26686.09</span>
<span class="t " style="left:1578.00px;top:52.65px;font-size:12.5px;color:#c9ccd4;transform:scaleX(0.8176);transform-origin:0 0;z-index:3;">USDT</span>
<span class="t " style="left:159.60px;top:805.55px;font-size:12.7px;color:#b9bcc5;transform:scaleX(0.8486);transform-origin:0 0;">11</span>
<span class="t " style="left:239.60px;top:805.55px;font-size:12.7px;color:#b9bcc5;transform:scaleX(0.8973);transform-origin:0 0;">12:00</span>
<span class="t " style="left:335.65px;top:805.55px;font-size:12.7px;color:#b9bcc5;transform:scaleX(0.8806);transform-origin:0 0;">18</span>
<span class="t " style="left:415.70px;top:805.55px;font-size:12.7px;color:#b9bcc5;transform:scaleX(0.8973);transform-origin:0 0;">12:00</span>
<span class="t " style="left:511.70px;top:805.55px;font-size:12.7px;color:#b9bcc5;transform:scaleX(0.9159);transform-origin:0 0;">25</span>
<span class="t " style="left:658.55px;top:805.55px;font-size:12.7px;color:#b9bcc5;transform:scaleX(0.8901);transform-origin:0 0;">May</span>
<span class="t " style="left:766.80px;top:805.55px;font-size:12.7px;color:#b9bcc5;transform:scaleX(0.9179);transform-origin:0 0;">5</span>
<span class="t " style="left:867.60px;top:805.55px;font-size:12.7px;color:#b9bcc5;transform:scaleX(0.9179);transform-origin:0 0;">9</span>
<span class="t " style="left:1041.85px;top:805.55px;font-size:12.7px;color:#b9bcc5;transform:scaleX(0.8102);transform-origin:0 0;">16</span>
<span class="t " style="left:1120.90px;top:805.55px;font-size:12.7px;color:#b9bcc5;transform:scaleX(0.8973);transform-origin:0 0;">12:00</span>
<span class="t " style="left:1216.80px;top:805.55px;font-size:12.7px;color:#b9bcc5;transform:scaleX(0.9159);transform-origin:0 0;">23</span>
<span class="t " style="left:1317.50px;top:805.55px;font-size:12.7px;color:#b9bcc5;transform:scaleX(0.9159);transform-origin:0 0;">27</span>
<span class="t " style="left:929.00px;top:806.15px;font-size:12.9px;color:#fff;transform:scaleX(0.8652);transform-origin:0 0;-webkit-text-stroke:.5px;">13 May '22</span>
<span class="t " style="left:994.30px;top:806.15px;font-size:12.9px;color:#fff;transform:scaleX(0.9302);transform-origin:0 0;-webkit-text-stroke:.5px;">04:00</span>
<span class="t " style="left:72.70px;top:838.65px;font-size:14.5px;color:#c9ccd4;transform:scaleX(0.8270);transform-origin:0 0;">1D</span>
<span class="t " style="left:102.40px;top:838.65px;font-size:14.5px;color:#c9ccd4;transform:scaleX(0.8378);transform-origin:0 0;">5D</span>
<span class="t " style="left:132.70px;top:838.65px;font-size:14.5px;color:#c9ccd4;transform:scaleX(0.8346);transform-origin:0 0;">1M</span>
<span class="t " style="left:163.40px;top:838.65px;font-size:14.5px;color:#c9ccd4;transform:scaleX(0.8691);transform-origin:0 0;">3M</span>
<span class="t " style="left:194.60px;top:838.65px;font-size:14.5px;color:#c9ccd4;transform:scaleX(0.8593);transform-origin:0 0;">6M</span>
<span class="t " style="left:226.00px;top:838.65px;font-size:14.5px;color:#c9ccd4;transform:scaleX(0.8379);transform-origin:0 0;">YTD</span>
<span class="t " style="left:264.90px;top:838.65px;font-size:14.5px;color:#c9ccd4;transform:scaleX(0.8225);transform-origin:0 0;">1Y</span>
<span class="t " style="left:294.10px;top:838.65px;font-size:14.5px;color:#c9ccd4;transform:scaleX(0.8338);transform-origin:0 0;">5Y</span>
<span class="t " style="left:323.10px;top:838.65px;font-size:14.5px;color:#c9ccd4;transform:scaleX(1.0500);transform-origin:0 0;">All</span>
<span class="t " style="left:72.00px;top:880.75px;font-size:14.3px;color:#c9ccd4;transform:scaleX(0.9495);transform-origin:0 0;">Stock Screener</span>
<span class="t " style="left:205.30px;top:880.75px;font-size:14.3px;color:#c9ccd4;letter-spacing:-0.198px;">Text Notes</span>
<span class="t " style="left:304.60px;top:880.75px;font-size:14.3px;color:#c9ccd4;letter-spacing:-0.149px;">Pine Editor</span>
<span class="t " style="left:405.70px;top:880.75px;font-size:14.3px;color:#c9ccd4;letter-spacing:-0.138px;">Strategy Tester</span>
<span class="t " style="left:533.60px;top:880.75px;font-size:14.3px;color:#c9ccd4;transform:scaleX(0.9431);transform-origin:0 0;">Paper Trading</span>
<div id="logo" style="position:absolute;left:1323px;top:750px;width:315px;height:124px;background:#fff"></div>
<svg id="logosvg" width="1680" height="909" viewBox="0 0 1680 909">
<defs><linearGradient id="gold" x1="0" y1="1" x2="1" y2="0"><stop offset="0" stop-color="#9a5a1c"/><stop offset=".25" stop-color="#b4772a"/><stop offset=".5" stop-color="#c99a2c"/><stop offset=".75" stop-color="#d99a16"/><stop offset="1" stop-color="#eeb41e"/></linearGradient><linearGradient id="gold2" x1="0" y1="1" x2="1" y2="0"><stop offset="0" stop-color="#c9962d"/><stop offset=".2" stop-color="#e7c33f"/><stop offset=".55" stop-color="#f5d94a"/><stop offset=".8" stop-color="#eab226"/><stop offset="1" stop-color="#f0b81e"/></linearGradient></defs>
<g transform="translate(1500,770) scale(0.09901)">
<path fill="#2b2b2b" d="M865,185C800,120 700,92 620,95C450,100 310,220 305,340C305,410 350,447 430,447C640,447 850,355 1065,170C900,255 680,355 500,378C430,380 400,350 405,310C415,230 520,175 620,178C690,180 740,200 780,235Z"/>
<path fill="url(#gold)" stroke="#c9c4b4" stroke-width="7" paint-order="stroke" d="M255,470C290,505 350,520 450,510C700,480 1000,330 1325,100C1100,330 820,540 560,608C450,636 330,640 265,605C230,575 230,500 255,470Z"/>
<path fill="url(#gold2)" d="M258,476C290,508 350,524 450,514C700,484 1000,334 1325,101C1060,330 760,505 500,562C400,582 320,577 262,548C250,530 248,495 258,476Z"/>
<path fill="#2b2b2b" d="M1250,255C1060,385 850,555 600,650C480,690 370,705 285,705C300,745 340,760 420,755C560,745 720,700 825,640C830,710 790,770 700,800C640,815 570,820 500,820C540,850 600,862 670,858C820,850 950,740 1000,600C1010,560 1015,520 1020,480C1060,440 1150,350 1250,255Z"/>
</g>
<path transform="translate(1336.300,805.400)" fill="#000" fill-rule="evenodd" d="M71.8,25.9 69.2,28.6 71.9,31 73.6,29.3 74.3,28.2ZM115.8,27.3 117.3,28.5 119.7,29.9 120.3,30 122.4,29.9 124.7,28.9 126.6,27.3 128,25 128.8,22.4 129.8,22.8 131,23.1 135.5,22.8 137.5,22.2 138.1,21.9 139.1,20.7 141,22.1 142.4,22.7 144,23.1 146.2,22.9 147.8,22.5 148.5,22.1 149.7,20.7 151.6,22.1 152.6,22.6 154.5,23.1 157,22.8 158.8,22.2 160.3,22.9 161.6,23.2 164.9,23.2 167.1,22.6 167.9,21.6 170,22.4 172.1,22.9 174.2,23.2 176.4,23.3 177.5,20.7 177.9,18.7 177.6,15.8 176.4,10.2 174.9,11.1 173.6,12.5 173.1,13.6 173.2,14.3 173.9,15.8 175.8,19.4 175.8,19.6 171.1,18.8 169.8,18.4 169.1,18 169.7,15.7 170.5,13.8 170.4,13.5 169.8,13.3 168.9,13.3 167.8,13.9 165.8,18.8 165.4,19 164.2,19.3 161.5,19.3 161.1,19.1 162.7,15.2 162.7,15 161.8,14.6 161.2,14.7 160.6,15.1 158.7,17.9 157.4,18.8 156.1,19 153.9,19 151.6,18.4 151,18.1 152.6,14.6 152.5,14.5 151.6,14.1 150.8,14.1 150.2,14.4 149.5,15.2 148,17.8 147.4,18.3 146.2,18.8 145.2,19 143.4,19 142.4,18.8 140.8,18.2 140.6,18 142.1,14.5 141.2,14.1 140.3,14.1 139.4,14.6 138,17.2 136.9,18.3 134.9,18.9 130.6,19 129.1,18.6 128.6,18.2 128.3,16.7 126,10.2 124.7,11.1 123.8,12 123.2,13.1 123.1,14.1 123.5,15.4 127.1,21.3 126.4,23 125.1,24.5 123.9,25.4 122.9,25.9 121.1,26.3 118.5,26.3 116.3,25.9ZM44.9,10.2 43.4,11.1 42.5,12 42,13.1 41.9,14.1 42.3,15.4 42.9,16.6 45.9,21.3 45.2,23 43.9,24.5 42.7,25.4 41.6,25.9 39.8,26.3 37.3,26.3 35.1,25.9 34.5,27.1 35,27.7 37.6,29.4 39,30 41.2,29.9 42.3,29.5 44.1,28.5 45.2,27.4 46,26.4 46.7,25.1 47.3,23.4 47.7,21.3 47.6,18.8 47.1,17 45.4,12.2ZM32.4,10.3 31.9,10.4 30.7,11.3 29.7,12.3 29.1,13.3 29.1,14.2 29.4,15.1 31.8,19.5 31.8,19.6 29.4,19.4 27.3,18.9 25.5,18.3 25,18 26.5,13.7 25.7,13.3 24.7,13.3 24.1,13.6 23.7,13.9 21.8,18.7 21.3,19 20.3,19.3 17,19.2 16.7,18.9 15.9,14.1 13.9,15.4 13.2,16.1 12.6,17.2 12.4,17.9 12.4,19 12.7,19.8 15.5,24.9 13.3,26.5 10.9,27.5 8.5,28 6.5,28.1 5,27.9 3.5,27.2 2.5,26.1 2,24.4 1.9,22.6 2.4,20.4 0.9,20.1 0.1,23.5 0,25.8 0.4,27.9 1.2,29.6 2.4,30.9 4.3,31.8 5.8,32 7.4,32 9.4,31.8 11.2,31.2 13,30.5 14,29.8 15.3,28.7 16.3,27.4 16.8,26.3 17.3,24.8 17.4,23.2 19.9,23.3 22.2,23 22.9,22.7 23.4,22.3 23.7,21.7 23.9,21.6 26.3,22.5 28.4,23 30.1,23.2 32.3,23.3 32.9,22.1 33.8,18.9 33.6,16.5ZM73.8,9 72,10.2 71.1,11.2 70.6,12 70.6,13 70.8,13.5 73.2,18 72.1,18.4 69.3,18.9 65.1,18.9 64.8,16.5 63.9,14 62.7,12.1 61.3,10.8 60,10.2 58.9,10.1 58.2,10.2 57.1,10.8 55.5,12.7 54.3,15.3 54,18.1 54.1,19.4 54.5,20.3 55.6,21.5 56.8,22.2 58.5,22.6 62.6,23.1 60.9,24.8 58.7,25.9 56.8,26.3 54.1,26.3 51.7,25.9 51.2,27.3 52.9,28.6 55.4,29.9 55.9,30 57,30 58.5,29.8 60.5,28.9 61.5,28.2 62.8,27 63.8,25.6 64.9,23 67.2,23.1 69.9,22.7 71.7,22.2 73.8,21.2 75,18.6 75.3,16.6 74.7,13.3ZM56.1,15.3 56.9,14.5 57.9,14.1 58.9,14.1 59.9,14.5 61.3,15.7 61.7,16.3 62.9,18.9 62.4,19 58.9,18.8 56.8,18.1 56.2,17.6 55.9,16.9 55.9,15.9ZM135.6,7.2 133.2,9.6 135.6,11.7 137.8,9.3ZM140.4,6.7 138.1,9.1 139.7,10.6 140.5,11.1 141.8,9.9 142.6,8.8ZM149.4,5.9 146.8,8.6 149.5,11 151.2,9.3 151.9,8.3ZM113.3,0 112.2,0.1 110.8,0.6 109.9,1.4 109.6,2.1 109.6,3.4 110.6,14.4 111.1,23 113.3,22.7 113.6,13.5 113.5,5.1 114.8,4.2ZM102.4,0 101.5,0.1 100.1,0.7 98.9,2 98.6,3.4 100.5,14.8 102.4,25 100.4,26.5 98,27.5 96.4,27.9 94.4,28.1 92.6,28 91.4,27.6 90,26.6 89.3,25.2 89,23.8 89,22.5 89.5,20.4 88.1,20.1 87.2,24 87.2,26.2 87.4,27.7 87.7,28.5 88.7,30.1 89.7,31 91.1,31.7 93,32 94.5,32 96.5,31.8 98.6,31.2 100.5,30.2 101.7,29.3 103,27.9 104,26.1 104.4,23.8 104.3,21.1 102.7,5 103.6,4.4 103.8,4 103,2Z"/>
<path transform="translate(1446.400,783.600)" fill="#000" fill-rule="evenodd" d="M49.12,9.05 48.53,8.07 48.02,7.55 47.39,7.23 46.76,7.23 46.25,7.43 45.7,7.91 45.11,8.7 44.31,10.12 43.88,10.56 43.5,10.79 42.83,10.99 41.31,10.99 39.79,10.87 38.86,10.71 38.65,10.95 38.22,11.7 38.01,12.22 38.01,12.53 38.18,12.73 38.94,13.24 41.05,14.31 40.08,14.63 38.69,14.9 36.91,15.1 35.56,15.14 34.76,15.06 33.83,14.75 33.32,14.35 32.9,13.6 32.82,12.65 33.07,11.62 32.35,11.47 32.1,12.37 31.93,13.44 31.97,14.43 32.18,15.18 32.69,15.97 33.11,16.33 33.79,16.68 34.34,16.84 35.22,16.96 36.87,16.88 38.27,16.6 39.7,16.13 40.88,15.54 41.64,14.9 41.9,14.43 41.9,14 41.77,13.56 41.52,13.32 40.12,12.69 40.12,12.61 41.64,12.81 42.95,12.81 43.59,12.65 44.47,12.1 45.32,12.45 46.33,12.73 47.56,12.93 48.61,12.97 49.2,12.33 49.59,11.47 49.54,10.4ZM46.38,9.17 46.67,9.05 46.97,9.05 47.35,9.33 47.85,10.2 48.06,10.95 48.06,11.27 46.71,11.07 45.87,10.83 45.36,10.6 45.87,9.73ZM55.41,5.89 54.82,6.17 54.32,6.64 54.06,7.12 54.02,7.55 54.15,7.95 54.44,8.46 55.33,9.65 56,10.75 55.92,10.83 54.82,11.07 53.13,11.11 52.25,10.91 51.49,10.52 51.19,10.91 51.02,11.43 51.02,12.02 51.11,12.26 51.44,12.61 51.87,12.81 52.37,12.93 53.85,12.97 55.03,12.81 56.43,12.37 56.93,11.11 57.02,10.4 56.85,9.65ZM73.2,2.25 72.65,2.29 72.01,2.53 71.59,2.89 71.42,3.2 71.42,3.83 71.93,8.86 72.14,12.81 73.2,12.69 73.32,8.46 73.28,4.59 73.87,4.19ZM59.09,3.28 59.85,10.44 60.06,11.31 60.44,11.98 60.95,12.41 61.71,12.73 62.59,12.85 63.9,12.81 65.13,12.69 66.31,12.45 67.11,12.18 67.92,11.7 68.34,11.23 68.59,10.6 68.59,9.88 68.51,9.57 68,8.66 66.94,7.59 66.27,7.12 65.21,6.56 63.95,6.17 63.9,6.09 66.69,5.26 69.18,4.19 69.56,3.87 69.73,3.52 69.77,2.85 69.6,2.41 69.44,2.25 67.7,2.93 65.04,4.07 63.35,4.86 62.93,6.64 62.93,6.96 63.14,7.43 63.35,7.63 63.78,7.83 64.54,7.79 65.72,8.46 66.65,9.13 67.32,9.77 67.79,10.44 67.03,10.71 65.63,10.91 62.34,10.99 61.83,10.87 61.33,10.56 61.16,7.31 61.03,2.25ZM15.5,3.28 16.26,10.44 16.47,11.31 16.85,11.98 17.57,12.53 18.58,12.81 19.22,12.85 19.81,12.77 20.44,12.53 21.08,12.1 21.92,12.45 23.31,12.81 24.62,12.97 25.3,12.93 25.81,12.33 26.14,11.62 26.14,10.4 25.85,9.37 25.38,8.42 25,7.91 24.62,7.55 24.12,7.27 23.36,7.23 22.68,7.55 21.92,8.38 20.91,10.12 20.48,10.56 20.1,10.79 19.43,10.99 18.75,10.99 18.25,10.87 17.74,10.56 17.57,7.31 17.44,2.25ZM22.98,9.17 23.27,9.05 23.57,9.05 23.95,9.33 24.45,10.2 24.67,10.95 24.67,11.27 23.31,11.07 22.47,10.83 21.96,10.6 22.47,9.73ZM12.92,2.25 11.7,2.85 10.98,3.28 11.91,8.03 12.29,10.6 11.7,10.83 10.9,10.99 8.66,10.95 6.93,10.71 6.72,10.95 6.29,11.7 6.08,12.22 6.08,12.53 6.25,12.73 7.01,13.24 9.12,14.31 7.48,14.79 4.98,15.1 3.63,15.14 2.83,15.06 2.24,14.9 1.6,14.55 1.18,14.07 0.93,13.4 0.89,12.65 1.14,11.62 0.42,11.47 0.04,13.05 0.04,14.43 0.25,15.18 0.51,15.66 1.18,16.33 1.86,16.68 2.41,16.84 3.29,16.96 4.1,16.96 5.83,16.72 7.48,16.25 8.62,15.73 9.29,15.3 9.71,14.9 9.97,14.43 9.93,13.76 9.76,13.44 9.38,13.2 8.19,12.69 8.19,12.61 9.71,12.81 11.19,12.81 12,12.65 12.33,12.49 12.54,12.3 12.88,11.7 13.14,10.75 13.14,8.18ZM74.76,0.32 74.63,0 74.04,0.2 73.36,0.32 72.81,0.32 71.42,0.04 71.08,0.04 69.9,0.87 70.11,1.19 71,0.79 72.35,1.15 73.15,1.19 74.12,0.83 74.72,0.43Z"/>
</svg>
</body></html>
